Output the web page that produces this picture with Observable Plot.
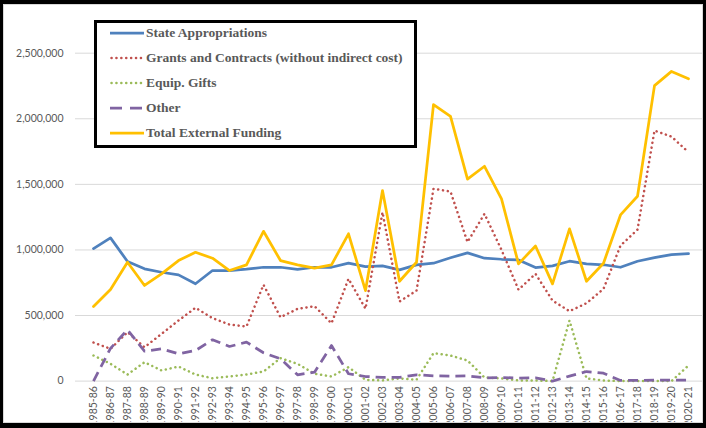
<!DOCTYPE html>
<html><head><meta charset="utf-8">
<script src="https://cdn.jsdelivr.net/npm/d3@7"></script>
<script src="https://cdn.jsdelivr.net/npm/@observablehq/plot@0.6"></script>
<style>
body{margin:0;background:#fff;}
#wrap{position:relative;width:706px;height:428px;overflow:hidden;background:#fff;}
#wrap > svg{position:absolute;left:0;top:0;}
#frame{position:absolute;left:0;top:0;width:706px;height:428px;box-sizing:border-box;border-style:solid;border-color:#000;border-width:4px 3px 5px 3px;pointer-events:none;}
#inner{position:absolute;left:3px;top:4px;right:3px;bottom:5px;border:1px solid #d9d9d9;pointer-events:none;}
#legend{position:absolute;left:94px;top:20px;width:323px;height:128px;box-sizing:border-box;border:3px solid #000;background:#fff;font-family:"Liberation Serif",serif;font-weight:bold;font-size:13.5px;color:#595959;}
.item{position:absolute;left:13px;height:20px;display:flex;align-items:center;white-space:nowrap;}
.item svg{display:block;margin-right:2px;}
</style>
</head><body>
<div id="wrap"></div>
<script>
const years = ["1985-86","1986-87","1987-88","1988-89","1989-90","1990-91","1991-92","1992-93","1993-94","1994-95","1995-96","1996-97","1997-98","1998-99","1999-00","2000-01","2001-02","2002-03","2003-04","2004-05","2005-06","2006-07","2007-08","2008-09","2009-10","2010-11","2011-12","2012-13","2013-14","2014-15","2015-16","2016-17","2017-18","2018-19","2019-20","2020-21"];
const stateAppropriations = [1010000,1092000,912000,856000,830000,810000,742000,843000,843000,853000,868000,868000,851000,868000,868000,899000,873000,879000,848000,886000,899000,940000,978000,937000,929000,924000,866000,879000,914000,894000,887000,868000,914000,942000,965000,972000];
const grantsContracts = [294000,246000,373000,258000,360000,462000,559000,480000,431000,416000,734000,487000,551000,571000,441000,780000,551000,1287000,607000,690000,1466000,1445000,1060000,1275000,1000000,697000,818000,614000,533000,594000,703000,1033000,1155000,1910000,1864000,1745000];
const equipGifts = [195000,132000,50000,144000,81000,111000,50000,22000,35000,50000,73000,175000,132000,56000,35000,106000,10000,5000,20000,10000,213000,195000,157000,27000,20000,5000,5000,0,462000,20000,5000,0,0,0,0,119000];
const other = [0,250000,391000,228000,246000,208000,233000,315000,264000,297000,216000,170000,48000,68000,271000,56000,35000,28000,28000,48000,40000,38000,40000,25000,28000,22000,25000,0,38000,73000,60000,5000,5000,8000,8000,8000];
const totalExternal = [569000,698000,906000,729000,818000,919000,982000,937000,843000,886000,1142000,919000,886000,861000,886000,1123000,690000,1453000,761000,906000,2108000,2019000,1540000,1638000,1389000,894000,1030000,741000,1161000,761000,899000,1267000,1409000,2253000,2361000,2305000];
const yTicks = [0,500000,1000000,1500000,2000000,2500000];

const seriesNames = ["State Appropriations","Grants and Contracts (without indirect cost)","Equip. Gifts","Other","Total External Funding"];
const seriesValues = [stateAppropriations, grantsContracts, equipGifts, other, totalExternal];
const seriesStyle = [
  {stroke:"#4f81bd", strokeWidth:2.75, dash:null, cap:"round"},
  {stroke:"#c0504d", strokeWidth:2.5, dash:"0.1 4.8", cap:"round"},
  {stroke:"#9bbb59", strokeWidth:2.5, dash:"0.1 4.8", cap:"round"},
  {stroke:"#8064a2", strokeWidth:2.75, dash:"10 6", cap:"butt"},
  {stroke:"#ffc000", strokeWidth:2.75, dash:null, cap:"round"}
];

const rows = arr => years.map((y,i)=>({year:y, value:arr[i]}));

const chart = Plot.plot({
  width:706, height:428,
  marginLeft:83, marginRight:8, marginTop:52.7, marginBottom:47.4,
  style:{fontFamily:"Lato, sans-serif", fontSize:"10.5px", color:"#595959", background:"transparent"},
  x:{type:"point", domain:years, label:null, tickSize:0, tickPadding:5, tickRotate:-90},
  y:{domain:[0,2500000], ticks:yTicks, tickFormat:d3.format(","), label:null, tickSize:0, tickPadding:20},
  marks:[
    Plot.ruleY(yTicks, {stroke:"#d9d9d9", strokeWidth:1, insetLeft:-8, insetRight:-4}),
    ...seriesValues.map((arr,k)=>Plot.line(rows(arr), {
      x:"year", y:"value",
      stroke:seriesStyle[k].stroke, strokeWidth:seriesStyle[k].strokeWidth,
      strokeDasharray:seriesStyle[k].dash || undefined,
      strokeLinecap:seriesStyle[k].cap, strokeLinejoin:"round"
    }))
  ]
});
const wrap = document.getElementById("wrap");
wrap.appendChild(chart);
chart.querySelectorAll("g[aria-label='x-axis tick label'] text").forEach(t=>t.style.fontSize="10.5px");

const legend = document.createElement("div");
legend.id = "legend";
seriesNames.forEach((name,k)=>{
  const it = document.createElement("div");
  it.className = "item";
  it.style.top = (0 + 25*k) + "px";
  const s = seriesStyle[k];
  const dash = s.dash ? (k===3 ? '12 8' : s.dash) : null;
  it.innerHTML = `<svg width="34" height="6"><line x1="${s.cap==='round'&&dash?1.5:0}" y1="3" x2="34" y2="3" stroke="${s.stroke}" stroke-width="${s.strokeWidth}" stroke-linecap="${dash?s.cap:'butt'}" ${dash?`stroke-dasharray="${dash}"`:''}/></svg><span>${name}</span>`;
  legend.appendChild(it);
});
wrap.appendChild(legend);
const inner = document.createElement("div"); inner.id="inner"; wrap.appendChild(inner);
const frame = document.createElement("div"); frame.id="frame"; wrap.appendChild(frame);
</script>
</body></html>
